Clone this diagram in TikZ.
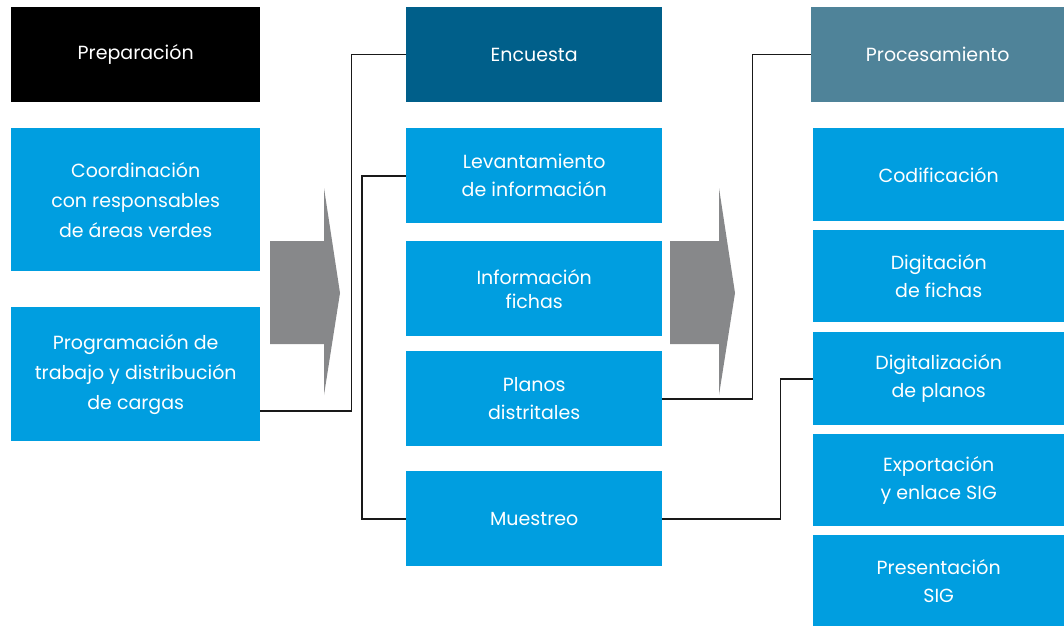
\documentclass[tikz,border=0pt]{standalone}
\usepackage{fontspec}
\setmainfont{Poppins}
\definecolor{boxblue}{RGB}{0,158,224}
\definecolor{deepblue}{RGB}{0,95,138}
\definecolor{slateblue}{RGB}{79,131,153}
\definecolor{arrowgrey}{RGB}{135,136,138}
\begin{document}
\begin{tikzpicture}[x=1pt,y=-1pt,
  box/.style={fill=boxblue,text=white,align=center,anchor=north west,inner sep=0pt,
    font=\fontsize{19}{28}\selectfont},
  head/.style={box,font=\fontsize{19}{24}\selectfont},
  link/.style={draw=black!90,line width=1.6pt}]
\useasboundingbox (0,0) rectangle (1064,626);
% first column
\node[head,fill=black,minimum width=249,minimum height=95] (prep) at (11,7) {Preparación};
\node[box,font=\fontsize{19}{30}\selectfont,minimum width=249,minimum height=143] (coord) at (11,128) {Coordinación\\con responsables\\de áreas verdes};
\node[box,font=\fontsize{19}{30}\selectfont,minimum width=249,minimum height=134] (prog) at (11,307) {Programación de\\trabajo y distribución\\de cargas};
% second column
\node[head,fill=deepblue,minimum width=256,minimum height=95] (enc) at (406,7) {Encuesta};
\node[box,minimum width=256,minimum height=95] (lev) at (406,128) {Levantamiento\\de información};
\node[box,font=\fontsize{19}{24}\selectfont,minimum width=256,minimum height=95] (info) at (406,241) {Información\\fichas};
\node[box,minimum width=256,minimum height=95] (plan) at (406,351) {Planos\\distritales};
\node[box,minimum width=256,minimum height=95] (mues) at (406,471) {Muestreo};
% third column
\node[head,fill=slateblue,minimum width=253,minimum height=95] (proc) at (811,7) {Procesamiento};
\node[box,minimum width=251,minimum height=93] (codi) at (813,128) {Codificación};
\node[box,minimum width=251,minimum height=92] (digi) at (813,230) {Digitación\\de fichas};
\node[box,minimum width=251,minimum height=93] (dplan) at (813,332) {Digitalización\\de planos};
\node[box,minimum width=251,minimum height=92] (expo) at (813,434) {Exportación\\y enlace SIG};
\node[box,minimum width=251,minimum height=91] (pres) at (813,535) {Presentación\\SIG};
% big grey arrows
\fill[arrowgrey] (270,241) -- (324,241) -- (324,188) -- (340,293) -- (324,395) -- (324,344) -- (270,344) -- cycle;
\fill[arrowgrey] (670,241) -- (719,241) -- (719,188) -- (735,293) -- (719,395) -- (719,344) -- (670,344) -- cycle;
% connectors
\draw[link] ([yshift=-37pt]prog.east) -- ++(91,0) |- (enc.west);
\draw[link] (lev.west) -- ++(-44,0) |- (mues.west);
\draw[link] (plan.east) -- ++(90,0) |- (proc.west);
\draw[link] (mues.east) -- ++(118,0) |- (dplan.west);
\end{tikzpicture}
\end{document}
